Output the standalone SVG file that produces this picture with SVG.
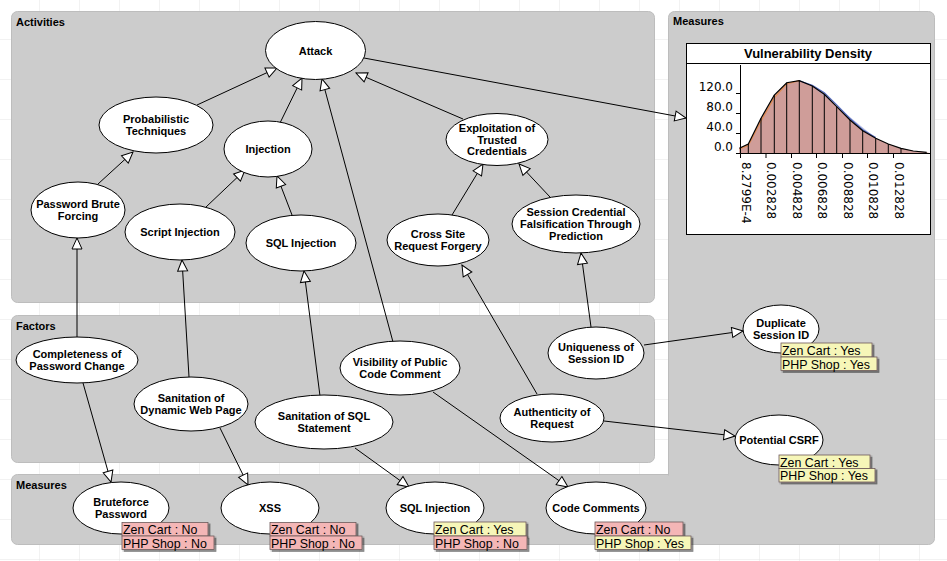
<svg xmlns="http://www.w3.org/2000/svg" width="947" height="561" viewBox="0 0 947 561">
<defs>
<pattern id="grid" width="40" height="40" patternUnits="userSpaceOnUse">
<path d="M40,0 L40,40 M0,40 L40,40" fill="none" stroke="#e4e4e4" stroke-width="1"/>
</pattern>
<marker id="arr" markerUnits="userSpaceOnUse" markerWidth="14" markerHeight="12" refX="11" refY="5" orient="auto" overflow="visible">
<path d="M0,0 L11,5 L0,10 z" fill="#fff" stroke="#000" stroke-width="1"/>
</marker>
<filter id="sh" x="-5%" y="-20%" width="115%" height="160%">
<feOffset dx="1.5" dy="1.5" in="SourceAlpha" result="o"/>
<feColorMatrix in="o" type="matrix" values="0 0 0 0 0  0 0 0 0 0  0 0 0 0 0  0 0 0 0.45 0"/>
<feMerge><feMergeNode/><feMergeNode in="SourceGraphic"/></feMerge>
</filter>
</defs>
<style>
.panel{fill:#cccccc;stroke:#bdbdbd;stroke-width:1}
.ptitle{font-family:"Liberation Sans",Arial,sans-serif;font-weight:bold;font-size:11px;fill:#000}
.node ellipse{fill:#fff;stroke:#000;stroke-width:1}
.node text{font-family:"Liberation Sans",Arial,sans-serif;font-weight:bold;font-size:11px;fill:#000;text-anchor:middle}
.conn line{stroke:#000;stroke-width:1;marker-end:url(#arr)}
.tag rect{stroke:#6e5a5a;stroke-width:0.8;filter:url(#sh)}
.tag .no{fill:#f4b6b6}
.tag .yes{fill:#f6f6b8}
.tag text{font-family:"Liberation Sans",Arial,sans-serif;font-size:12.4px;fill:#000}
.ax{stroke:#000;stroke-width:1;fill:none}
.cl{font-family:"DejaVu Sans",sans-serif;font-size:12px;fill:#000}
</style>
<rect x="0" y="0" width="947" height="561" fill="#fff"/>
<rect x="0" y="0" width="947" height="561" fill="url(#grid)"/>

<g id="panels">
<rect class="panel" x="11.5" y="11.5" width="643" height="291" rx="6"/>
<rect class="panel" x="11.5" y="315.5" width="643" height="147" rx="6"/>
<rect class="panel" x="11.5" y="474.5" width="665" height="70" rx="6"/>
<rect class="panel" x="668.5" y="11.5" width="266" height="533" rx="6"/>
<rect x="660" y="475.5" width="12" height="68" fill="#cccccc"/>
<text class="ptitle" x="16" y="26">Activities</text>
<text class="ptitle" x="16" y="330">Factors</text>
<text class="ptitle" x="16" y="489">Measures</text>
<text class="ptitle" x="673" y="25">Measures</text>
</g>

<g id="chart">
<rect x="686.5" y="43.5" width="244" height="191" fill="#fff" stroke="#000" stroke-width="1"/>
<line x1="686.5" y1="63.5" x2="930.5" y2="63.5" stroke="#000" stroke-width="1"/>
<text x="808" y="58" font-family="Liberation Sans, Arial, sans-serif" font-weight="bold" font-size="13" text-anchor="middle">Vulnerability Density</text>
<path d="M739.3,153.3 L739.3,148.3 L748.3,144 L761,118.3 L774.3,95 L786.7,82.7 L799.3,80.7 L812.3,86 L824.3,94.3 L836.7,106.7 L850,120 L862.7,130.7 L875.7,138.3 L888.3,144 L901,148.3 L913.3,151 L926.7,152.3 L930,153.3 Z" fill="#cf9d99"/>
<path d="M812.3,86.5 L824.3,95 L836.7,106.5 L850,119 L862.7,130 L875.7,138 Z" fill="#9fa8d8" opacity="0.7"/>
<polyline points="739.3,149 748.3,145.5 761,121 774.3,97.5 786.7,84 799.3,80.7" fill="none" stroke="#e08a50" stroke-width="1.2"/>
<polyline points="799.3,80.7 812.3,85.3 824.3,92.8 836.7,104.8 850,118.5 862.7,129.8 875.7,137.6" fill="none" stroke="#5068c0" stroke-width="1.2"/>
<polyline points="739.3,148.3 748.3,144 761,118.3 774.3,95 786.7,82.7 799.3,80.7 812.3,86 824.3,94.3 836.7,106.7 850,120 862.7,130.7 875.7,138.3 888.3,144 901,148.3 913.3,151 926.7,152.3" fill="none" stroke="#000" stroke-width="1.2"/>
<g stroke="#000" stroke-width="1">
<line x1="748.3" y1="144" x2="748.3" y2="153.3"/>
<line x1="761" y1="118.3" x2="761" y2="153.3"/>
<line x1="774.3" y1="95" x2="774.3" y2="153.3"/>
<line x1="786.7" y1="82.7" x2="786.7" y2="153.3"/>
<line x1="799.3" y1="80.7" x2="799.3" y2="153.3"/>
<line x1="812.3" y1="86" x2="812.3" y2="153.3"/>
<line x1="824.3" y1="94.3" x2="824.3" y2="153.3"/>
<line x1="836.7" y1="106.7" x2="836.7" y2="153.3"/>
<line x1="850" y1="120" x2="850" y2="153.3"/>
<line x1="862.7" y1="130.7" x2="862.7" y2="153.3"/>
<line x1="875.7" y1="138.3" x2="875.7" y2="153.3"/>
<line x1="888.3" y1="144" x2="888.3" y2="153.3"/>
<line x1="901" y1="148.3" x2="901" y2="153.3"/>
</g>
<path class="ax" d="M740.5,65 L740.5,153.5 L931,153.5"/>
<path class="ax" d="M736,93.5 L740.5,93.5 M736,113.5 L740.5,113.5 M736,133.5 L740.5,133.5 M736,153.5 L740.5,153.5"/>
<path class="ax" d="M740.5,153.5 L740.5,158 M766,153.5 L766,158 M791.5,153.5 L791.5,158 M816.5,153.5 L816.5,158 M842.5,153.5 L842.5,158 M867.5,153.5 L867.5,158 M893.5,153.5 L893.5,158"/>
<g class="cl" text-anchor="end">
<text x="733" y="90.5">120.0</text>
<text x="733" y="110.5">80.0</text>
<text x="733" y="130.5">40.0</text>
<text x="733" y="150.5">0.0</text>
</g>
<g class="cl">
<text transform="translate(742.2,162) rotate(90)">8.2799E-4</text>
<text transform="translate(767.3,162) rotate(90)">0.002828</text>
<text transform="translate(793,162) rotate(90)">0.004828</text>
<text transform="translate(818,162) rotate(90)">0.006828</text>
<text transform="translate(843.8,162) rotate(90)">0.008828</text>
<text transform="translate(869,162) rotate(90)">0.010828</text>
<text transform="translate(894.8,162) rotate(90)">0.012828</text>
</g>
</g>

<g id="connectors" class="conn">
<line x1="197" y1="105" x2="277" y2="68"/>
<line x1="279" y1="125" x2="302" y2="78"/>
<line x1="393" y1="342" x2="322" y2="79"/>
<line x1="463" y1="119" x2="356" y2="73"/>
<line x1="364" y1="58" x2="686" y2="118"/>
<line x1="98" y1="184" x2="133" y2="152"/>
<line x1="206" y1="207" x2="245" y2="170"/>
<line x1="292" y1="215" x2="277" y2="176"/>
<line x1="452" y1="215" x2="483" y2="164"/>
<line x1="550" y1="197" x2="519" y2="164"/>
<line x1="77" y1="337" x2="77" y2="238"/>
<line x1="83" y1="383" x2="111" y2="482"/>
<line x1="189" y1="377" x2="182" y2="260"/>
<line x1="220" y1="428" x2="248" y2="485"/>
<line x1="320" y1="396" x2="304" y2="271"/>
<line x1="355" y1="448" x2="409" y2="487"/>
<line x1="433" y1="392" x2="568" y2="487"/>
<line x1="537" y1="394" x2="462" y2="265"/>
<line x1="591" y1="327" x2="581" y2="253"/>
<line x1="644" y1="345" x2="743" y2="331"/>
<line x1="604" y1="421" x2="735" y2="436"/>
</g>

<g id="n-attack" class="node"><ellipse cx="315.5" cy="50.5" rx="50" ry="29"/><text x="315.5" y="54.5">Attack</text></g>
<g id="n-prob" class="node"><ellipse cx="156" cy="125" rx="57" ry="28"/><text x="156" y="123">Probabilistic</text><text x="156" y="135">Techniques</text></g>
<g id="n-injection" class="node"><ellipse cx="268" cy="149" rx="44" ry="28"/><text x="268" y="153">Injection</text></g>
<g id="n-exploit" class="node"><ellipse cx="497" cy="139.5" rx="51" ry="26"/><text x="497" y="131.7">Exploitation of</text><text x="497" y="143.5">Trusted</text><text x="497" y="155.3">Credentials</text></g>
<g id="n-pbf" class="node"><ellipse cx="78" cy="210" rx="47" ry="28"/><text x="78" y="208">Password Brute</text><text x="78" y="220">Forcing</text></g>
<g id="n-script" class="node"><ellipse cx="180" cy="232" rx="55" ry="28"/><text x="180" y="236">Script Injection</text></g>
<g id="n-sqlact" class="node"><ellipse cx="301" cy="243" rx="55" ry="28"/><text x="301" y="247">SQL Injection</text></g>
<g id="n-csrf" class="node"><ellipse cx="438" cy="240" rx="51" ry="26"/><text x="438" y="238">Cross Site</text><text x="438" y="250">Request Forgery</text></g>
<g id="n-session" class="node"><ellipse cx="576" cy="224" rx="64" ry="29"/><text x="576" y="216">Session Credential</text><text x="576" y="228">Falsification Through</text><text x="576" y="240">Prediction</text></g>
<g id="n-complete" class="node"><ellipse cx="77" cy="360" rx="61" ry="23"/><text x="77" y="358">Completeness of</text><text x="77" y="370">Password Change</text></g>
<g id="n-sandyn" class="node"><ellipse cx="191" cy="404" rx="57" ry="27"/><text x="191" y="402">Sanitation of</text><text x="191" y="414">Dynamic Web Page</text></g>
<g id="n-visib" class="node"><ellipse cx="400" cy="368" rx="60" ry="27"/><text x="400" y="366">Visibility of Public</text><text x="400" y="378">Code Comment</text></g>
<g id="n-sansql" class="node"><ellipse cx="324" cy="422" rx="69" ry="27"/><text x="324" y="420">Sanitation of SQL</text><text x="324" y="432">Statement</text></g>
<g id="n-unique" class="node"><ellipse cx="596" cy="353" rx="48" ry="26"/><text x="596" y="351">Uniqueness of</text><text x="596" y="363">Session ID</text></g>
<g id="n-auth" class="node"><ellipse cx="552" cy="418" rx="52" ry="24"/><text x="552" y="416">Authenticity of</text><text x="552" y="428">Request</text></g>
<g id="n-dup" class="node"><ellipse cx="781" cy="329" rx="38" ry="24"/><text x="781" y="327">Duplicate</text><text x="781" y="339">Session ID</text></g>
<g id="n-pcsrf" class="node"><ellipse cx="779" cy="440" rx="44" ry="25"/><text x="779" y="444">Potential CSRF</text></g>
<g id="n-bfp" class="node"><ellipse cx="121" cy="508" rx="48" ry="26"/><text x="121" y="506">Bruteforce</text><text x="121" y="518">Password</text></g>
<g id="n-xss" class="node"><ellipse cx="270" cy="508" rx="49" ry="26"/><text x="270" y="512">XSS</text></g>
<g id="n-sqlmeas" class="node"><ellipse cx="435" cy="508" rx="49" ry="26"/><text x="435" y="512">SQL Injection</text></g>
<g id="n-code" class="node"><ellipse cx="596" cy="508" rx="50" ry="26"/><text x="596" y="512">Code Comments</text></g>

<g id="tags" class="tag">
<rect class="no" x="122" y="522.5" width="86" height="13.5"/><text x="123" y="534">Zen Cart : No</text>
<rect class="no" x="122" y="536" width="92" height="13.5"/><text x="123" y="547.5">PHP Shop : No</text>
<rect class="no" x="270" y="522.5" width="86" height="13.5"/><text x="271" y="534">Zen Cart : No</text>
<rect class="no" x="270" y="536" width="92" height="13.5"/><text x="271" y="547.5">PHP Shop : No</text>
<rect class="yes" x="434" y="522" width="92" height="14"/><text x="435" y="534">Zen Cart : Yes</text>
<rect class="no" x="434" y="536" width="93" height="13.5"/><text x="435" y="547.5">PHP Shop : No</text>
<rect class="no" x="595" y="522" width="88" height="14"/><text x="596" y="534">Zen Cart : No</text>
<rect class="yes" x="595" y="536" width="96" height="13.5"/><text x="596" y="547.5">PHP Shop : Yes</text>
<rect class="yes" x="781" y="343" width="91" height="14"/><text x="782" y="355">Zen Cart : Yes</text>
<rect class="yes" x="781" y="357" width="96" height="13.5"/><text x="782" y="368.5">PHP Shop : Yes</text>
<rect class="yes" x="779" y="455" width="91" height="13.5"/><text x="780" y="466.5">Zen Cart : Yes</text>
<rect class="yes" x="779" y="468.5" width="96" height="13.5"/><text x="780" y="480">PHP Shop : Yes</text>
</g>
</svg>
